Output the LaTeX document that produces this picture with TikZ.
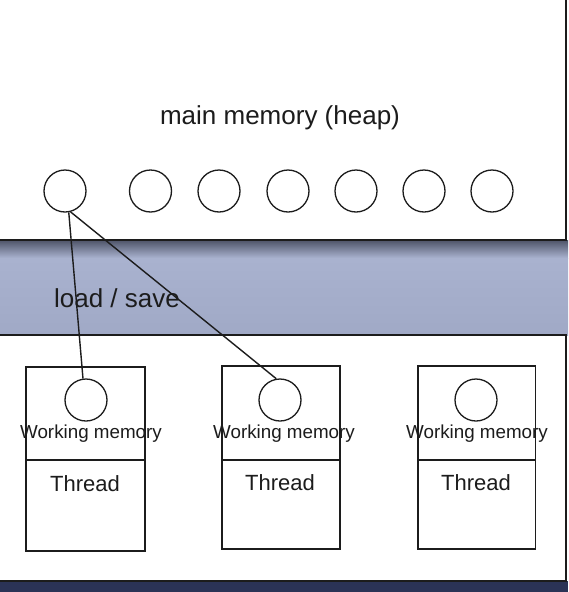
\documentclass[tikz,border=0pt]{standalone}
\usepackage{fontspec}
\setmainfont{Liberation Sans}
\definecolor{bandtop}{HTML}{A9B2CF}
\definecolor{bandbot}{HTML}{A0A9C6}
\definecolor{shadowc}{HTML}{4E5468}
\definecolor{navy}{HTML}{2B3356}
\definecolor{ink}{HTML}{1C1C1C}
\tikzset{
  panel/.style={draw=ink, line width=1.6pt, fill=white},
  heapcell/.style={circle, draw=ink, line width=1.3pt, minimum size=42pt, inner sep=0pt},
  threadbox/.style={draw=ink, line width=1.6pt, fill=white},
  link/.style={draw=ink, line width=1.4pt},
  bigtext/.style={font=\fontsize{26}{28}\selectfont, text=ink, inner sep=0pt},
  wmtext/.style={font=\fontsize{18.8}{20}\selectfont, text=ink, inner sep=0pt},
  thtext/.style={font=\fontsize{22}{24}\selectfont, text=ink, inner sep=0pt}
}
\begin{document}
\begin{tikzpicture}[x=1pt, y=-1pt]
\useasboundingbox (0,0) rectangle (568,592);
% backgrounds
\fill[white] (0,0) rectangle (568,592);
\shade[top color=shadowc, bottom color=bandtop] (0,240) rectangle (568,258);
\shade[top color=bandtop, bottom color=bandbot] (0,258) rectangle (568,335);
\fill[navy] (0,581) rectangle (568,592);
% panels
\draw[panel] (-2,-2) rectangle (566,240);
\draw[panel] (-2,335) rectangle (566,581);
% heap
\node[bigtext] (heaplabel) at (280,118) {main memory (heap)};
\node[heapcell] (h1) at (65,191) {};
\node[heapcell] (h2) at (150.5,191) {};
\node[heapcell] (h3) at (219,191) {};
\node[heapcell] (h4) at (288,191) {};
\node[heapcell] (h5) at (356,191) {};
\node[heapcell] (h6) at (424,191) {};
\node[heapcell] (h7) at (492,191) {};
\node[bigtext] (ls) at (117,298) {load / save};
% threads
\draw[threadbox] (26,367) rectangle (145,551);
\draw[ink, line width=1.6pt] (26,460) -- (145,460);
\draw[threadbox] (222,366) rectangle (340,549);
\draw[ink, line width=1.6pt] (222,460) -- (340,460);
\draw[threadbox] (418,366) rectangle (535.5,549);
\draw[ink, line width=1.6pt] (418,460) -- (535.5,460);
\node[heapcell] (t1) at (86,400) {};
\node[heapcell] (t2) at (280,400) {};
\node[heapcell] (t3) at (476,400) {};
\node[wmtext] (w1) at (91,434) {Working memory};
\node[wmtext] (w2) at (284,434) {Working memory};
\node[wmtext] (w3) at (477,434) {Working memory};
\node[thtext] (th1) at (85,484) {Thread};
\node[thtext] (th2) at (280,483) {Thread};
\node[thtext] (th3) at (476,483) {Thread};
% connectors
\draw[link] (h1.-80) -- (t1.98);
\draw[link] (h1.-75) -- (t2.100);
\end{tikzpicture}
\end{document}
